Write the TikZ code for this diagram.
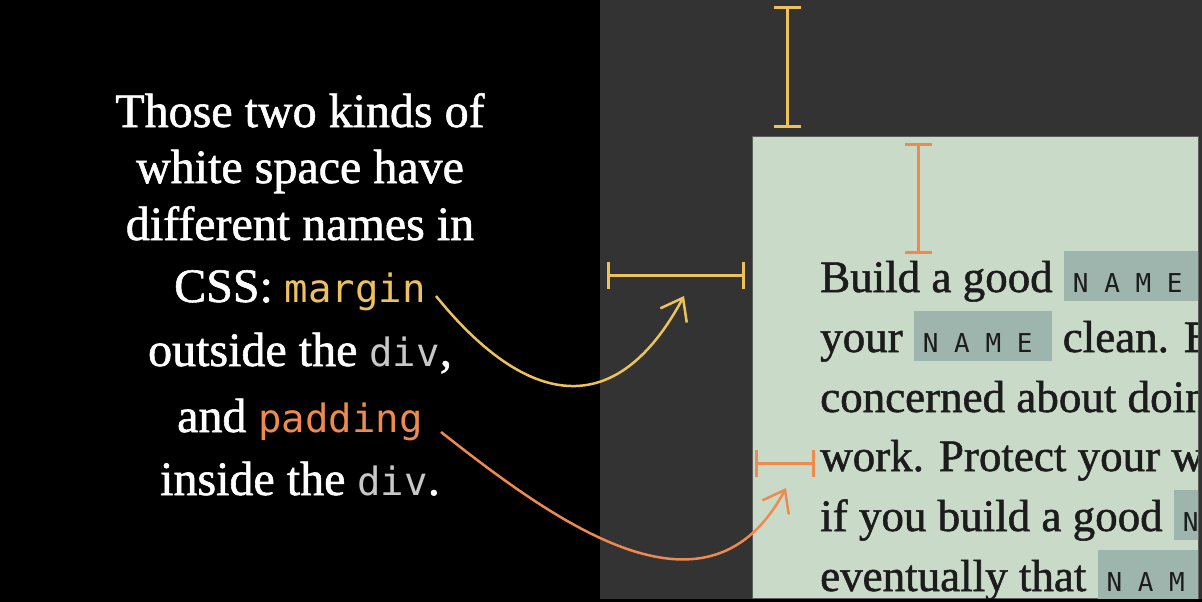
\documentclass[tikz,border=0pt]{standalone}
\usepackage{fontspec}
\setmainfont{Liberation Serif}[FakeBold=1.2]
\newfontfamily\codefont{DejaVu Sans Mono}
\usetikzlibrary{arrows.meta}
\definecolor{panelgray}{HTML}{333333}
\definecolor{boxgreen}{HTML}{C9DBC8}
\definecolor{boxedge}{HTML}{5A5F5A}
\definecolor{namegray}{HTML}{9DB5AD}
\definecolor{marginyellow}{HTML}{EEC25A}
\definecolor{paddingorange}{HTML}{EE8A50}
\definecolor{divgray}{HTML}{C8C8C8}
\definecolor{ink}{HTML}{1C1C1C}
\newcommand{\code}[2]{{\codefont\fontsize{39}{46}\selectfont\textcolor{#1}{#2}}}
\newcommand{\namebox}{{\setlength{\fboxsep}{0pt}\colorbox{namegray}{\rule[-9pt]{0pt}{50pt}\hspace{9pt}{\codefont\fontsize{26}{30}\selectfont N A M E}\hspace{19pt}}}}

\begin{document}
\begin{tikzpicture}[x=1pt,y=-1pt,
  leftline/.style={anchor=base,inner sep=0pt,text=white,font=\fontsize{48}{58}\selectfont},
  boxline/.style={anchor=base west,inner sep=0pt,text=ink,font=\fontsize{45}{54}\selectfont},
  spacebar/.style={line width=3pt,{Bar[width=27pt]}-{Bar[width=27pt]}},
  curvearrow/.style={line width=2.5pt,-{Straight Barb[length=20pt,width=30pt]}}]
\useasboundingbox (0,0) rectangle (1202,602);
% backgrounds
\fill[black] (0,0) rectangle (1202,602);
\fill[panelgray] (600,0) rectangle (1202,599);
\draw[fill=boxgreen,draw=boxedge,line width=0.8pt] (752,136) rectangle (1198,598);
% left text
\node[leftline] (kinds) at (300,127) {Those two kinds of};
\node[leftline] (white) at (300,183) {white space have};
\node[leftline] (names) at (300,240) {different names in};
\node[leftline] (css) at (300,302) {CSS: \code{marginyellow}{margin}};
\node[leftline] (outside) at (300,366) {outside the \code{divgray}{div},};
\node[leftline] (and) at (300,432) {and \code{paddingorange}{padding}};
\node[leftline] (inside) at (300,495) {inside the \code{divgray}{div}.};
% text in the div
\begin{scope}
\clip (752,136) rectangle (1198,598);
\node[boxline] (build) at (820,292) {Build a good \namebox};
\node[boxline] (your) at (820,352) {your \namebox{} clean. Be};
\node[boxline] (concerned) at (820,412) {concerned about doing};
\node[boxline] (work) at (820,471) {work. Protect your work};
\node[boxline] (ifyou) at (820,531) {if you build a good \namebox};
\node[boxline] (eventually) at (820,591) {eventually that \namebox};
\end{scope}
% margin
\coordinate (margintop) at (787,6);
\coordinate (marginbottom) at (787,128);
\coordinate (marginleft) at (607,275);
\coordinate (marginright) at (745,275);
\draw[spacebar,marginyellow] (margintop) -- (marginbottom);
\draw[spacebar,marginyellow] (marginleft) -- (marginright);
% padding
\coordinate (paddingtop) at (918,143);
\coordinate (paddingbottom) at (918,254);
\coordinate (paddingleft) at (755,463);
\coordinate (paddingright) at (815,463);
\draw[spacebar,paddingorange] (paddingtop) -- (paddingbottom);
\draw[spacebar,paddingorange] (paddingleft) -- (paddingright);
% arrows
\coordinate (marginfrom) at (436,296);
\coordinate (marginto) at (684,296);
\coordinate (paddingfrom) at (441,432);
\coordinate (paddingto) at (786,488);
\draw[curvearrow,marginyellow] (marginfrom) .. controls (520,400) and (612,430) .. (marginto);
\draw[curvearrow,paddingorange] (paddingfrom) .. controls (565,530) and (710,630) .. (paddingto);
\end{tikzpicture}
\end{document}
